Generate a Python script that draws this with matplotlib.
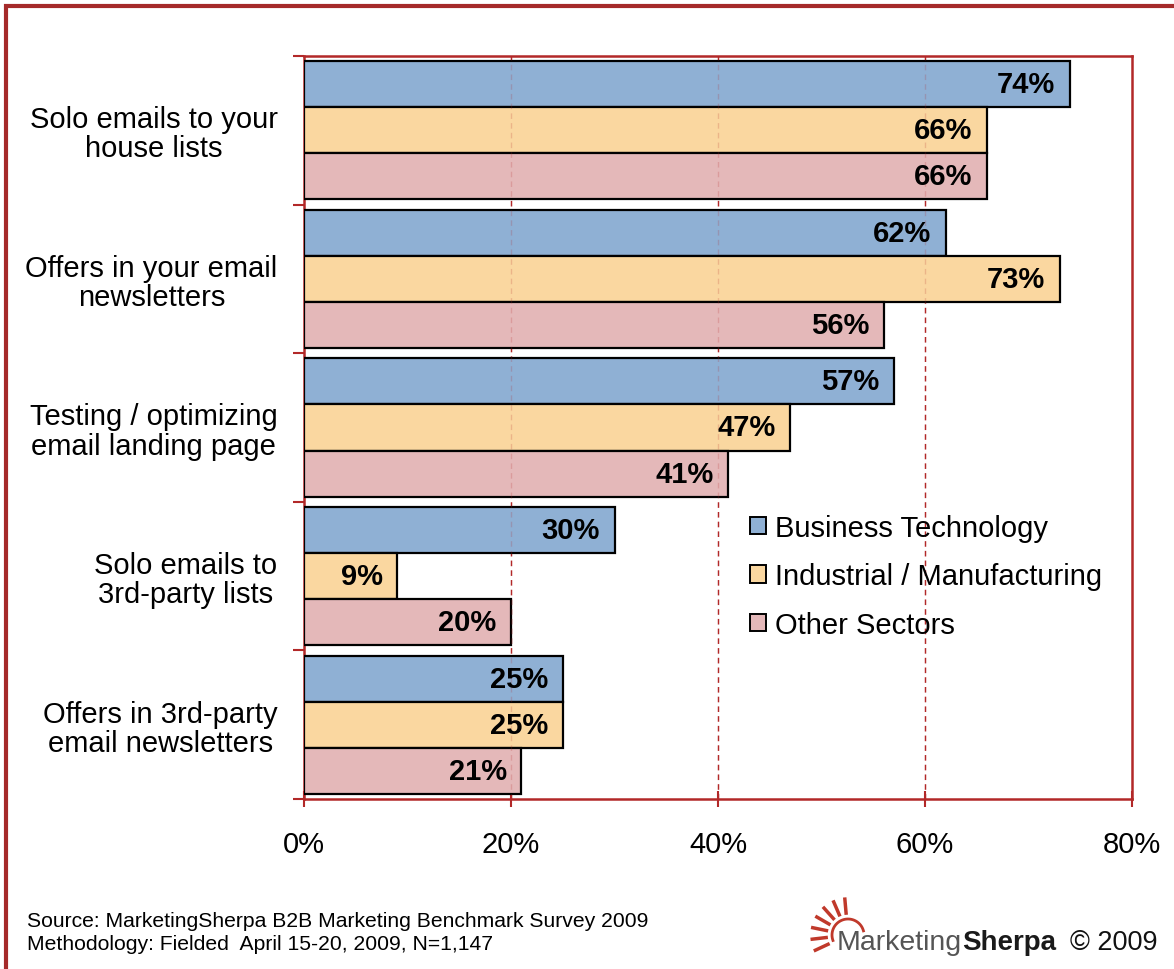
import matplotlib.pyplot as plt
import numpy as np
from matplotlib.patches import Rectangle
from matplotlib.lines import Line2D

plt.rcParams['font.family'] = ['Liberation Sans', 'DejaVu Sans']

# survey data (percent of respondents)
categories = ['Solo emails to your\nhouse lists',
              'Offers in your email\nnewsletters',
              'Testing / optimizing\nemail landing page',
              'Solo emails to\n3rd-party lists',
              'Offers in 3rd-party\nemail newsletters']
series_names = ['Business Technology', 'Industrial / Manufacturing', 'Other Sectors']
business_tech = [74, 62, 57, 30, 25]
industrial = [66, 73, 47, 9, 25]
other_sectors = [66, 56, 41, 20, 21]
x_ticks = [0, 20, 40, 60, 80]

colors = ['#8FB0D4', '#FAD7A0', '#E4B8B9']
red = '#B22828'

fig = plt.figure(figsize=(11.74, 9.70), dpi=100)
ax = fig.add_axes([304 / 1174, 1 - 800 / 970, 828 / 1174, 743 / 970])

n = len(categories)
bar_h = 0.31
pos = np.arange(n)
all_series = [business_tech, industrial, other_sectors]
for i, (vals, col, name) in enumerate(zip(all_series, colors, series_names)):
    y = pos + (i - 1) * bar_h
    bars = ax.barh(y, vals, height=bar_h, color=col, edgecolor='black',
                   linewidth=1.6, label=name, zorder=3)
    for b, v in zip(bars, vals):
        ax.text(v - 1.4, b.get_y() + b.get_height() / 2, f'{v}%',
                ha='right', va='center', fontsize=21, fontweight='bold',
                zorder=5)

ax.set_xlim(0, 80)
ax.set_ylim(n - 0.5, -0.5)

# dashed grid lines, faintly visible through the bars
for xv in x_ticks[1:-1]:
    ax.axvline(xv, color=red, linestyle=(0, (4, 3)), linewidth=1.0, zorder=1)
    ax.axvline(xv, color=red, linestyle=(0, (4, 3)), linewidth=1.0, alpha=0.2, zorder=4)

ax.set_xticks(x_ticks)
ax.set_xticklabels([f'{v}%' for v in x_ticks], fontsize=21)
ax.tick_params(axis='x', direction='inout', length=12, width=1.5, color=red, pad=16)

# category labels at group centres, boundary ticks at group edges
ax.set_yticks(pos)
ax.set_yticklabels(categories, fontsize=21, multialignment='center', linespacing=1.05)
ax.tick_params(axis='y', length=0, pad=19)
ax.set_yticks(np.arange(n + 1) - 0.5, minor=True)
ax.tick_params(axis='y', which='minor', direction='out', length=8, width=1.5, color=red)

for s in ax.spines.values():
    s.set_color(red)
    s.set_linewidth(1.8)

leg = ax.legend(loc='upper left', bbox_to_anchor=((750 - 304) / 828, (800 - 515) / 743),
                frameon=False, fontsize=21, handlelength=0.55, handleheight=0.55,
                handletextpad=0.3, labelspacing=0.7, borderpad=0, borderaxespad=0)
for h, col in zip(leg.legend_handles, colors):
    h.set_facecolor(col)
    h.set_edgecolor('black')
    h.set_linewidth(1.4)

# outer frame
fig.patches.append(Rectangle((6 / 1174, -0.05), 1.1, 1 - 7 / 970 + 0.05,
                             transform=fig.transFigure, fill=False,
                             edgecolor='#A52A2A', linewidth=3))

fig.text(27 / 1174, 1 - 922 / 970, 'Source: MarketingSherpa B2B Marketing Benchmark Survey 2009',
         fontsize=15.2, va='center', ha='left')
fig.text(27 / 1174, 1 - 945 / 970, 'Methodology: Fielded  April 15-20, 2009, N=1,147',
         fontsize=15.2, va='center', ha='left')

# logo text with a small sunburst
base_y = 1 - 950 / 970
fig.text(837 / 1174, base_y, 'Marketing', fontsize=20.5, color='#555555',
         va='baseline', ha='left')
fig.text(962 / 1174, base_y, 'Sherpa', fontsize=20, fontweight='bold',
         color='#1a1a1a', va='baseline', ha='left')
fig.text(1070 / 1174, base_y, '\u00a9 2009', fontsize=19.5, color='#111111',
         va='baseline', ha='left')
cx, cy = 848, 936
for ang in np.linspace(95, 205, 7):
    a = np.deg2rad(ang)
    r0, r1 = 22, 36
    xs = [(cx + r0 * np.cos(a)) / 1174, (cx + r1 * np.cos(a)) / 1174]
    ys = [1 - (cy - r0 * np.sin(a)) / 970, 1 - (cy - r1 * np.sin(a)) / 970]
    fig.lines.append(Line2D(xs, ys, transform=fig.transFigure, color='#C0392B', linewidth=2.5))
arc_t = np.linspace(np.deg2rad(15), np.deg2rad(200), 40)
fig.lines.append(Line2D((cx + 16 * np.cos(arc_t)) / 1174, 1 - (cy - 16 * np.sin(arc_t)) / 970,
                        transform=fig.transFigure, color='#C0392B', linewidth=2))

fig.savefig('out.png', dpi=100)
